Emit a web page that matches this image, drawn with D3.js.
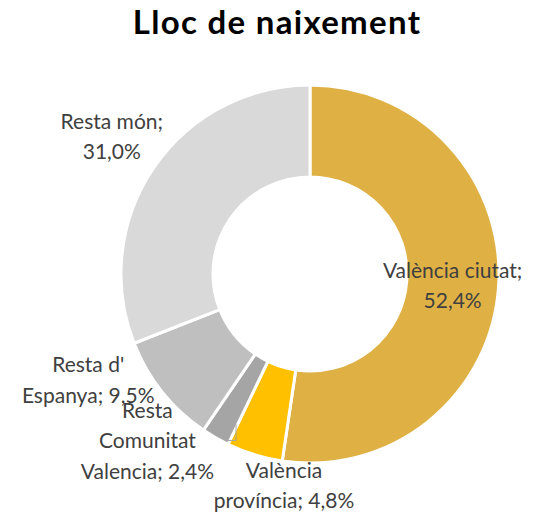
<!DOCTYPE html>
<html>
<head>
<meta charset="utf-8">
<script src="https://cdn.jsdelivr.net/npm/d3@7"></script>
<style>
  body { margin: 0; background: #fff; }
  svg { display: block; font-family: Lato, "Open Sans", sans-serif; }
</style>
</head>
<body>
<div id="chart"></div>
<script>
// chart data
const categories = ["València ciutat", "València província", "Resta Comunitat Valencia", "Resta d' Espanya", "Resta món"];
const values = [52.4, 4.8, 2.4, 9.5, 31.0];
const valueLabels = ["52,4%", "4,8%", "2,4%", "9,5%", "31,0%"];
// label lines as Excel wrapped them
const labelLines = [
  ["València ciutat;", "52,4%"],
  ["València", "província; 4,8%"],
  ["Resta", "Comunitat", "Valencia; 2,4%"],
  ["Resta d'", "Espanya; 9,5%"],
  ["Resta món;", "31,0%"]
];
const colors = ["#DFB145", "#FFC000", "#A5A5A5", "#BFBFBF", "#D9D9D9"];

const width = 536, height = 517;
const cx = 310, cy = 274;
const outerR = 189, innerR = 97;

// label offsets from each slice centroid (first baseline)
const labelOffsets = [[0, -7], [16, 67], [-91, 20], [-110, 9], [-80, -65]];
const lineHeight = 30.5;

const svg = d3.select("#chart").append("svg")
  .attr("width", width)
  .attr("height", height);

svg.append("text")
  .attr("x", 277)
  .attr("y", 34)
  .attr("text-anchor", "middle")
  .attr("font-size", 33)
  .attr("font-weight", "bold")
  .attr("letter-spacing", 1.3)
  .attr("fill", "#000")
  .text("Lloc de naixement");

const pie = d3.pie().sort(null).value(d => d);
const arcs = pie(values);
const arc = d3.arc().innerRadius(innerR).outerRadius(outerR);

const g = svg.append("g").attr("transform", `translate(${cx},${cy})`);

g.selectAll("path.slice")
  .data(arcs)
  .join("path")
  .attr("class", "slice")
  .attr("d", arc)
  .attr("fill", (d, i) => colors[i])
  .attr("stroke", "#fff")
  .attr("stroke-width", 3)
  .attr("stroke-linejoin", "round");

// small leader line for the "Resta Comunitat" label
const a3 = arcs[2].startAngle;
const p1 = [Math.sin(a3) * (outerR - 22) - 1.5, -Math.cos(a3) * (outerR - 22)];
const p2 = [p1[0], p1[1] + 16];
g.append("path")
  .attr("d", `M${p1[0]},${p1[1]} L${p2[0]},${p2[1]} L${p2[0] - 8},${p2[1]}`)
  .attr("fill", "none")
  .attr("stroke", "#A6A6A6")
  .attr("stroke-width", 1);

const labels = g.selectAll("text.lbl")
  .data(arcs)
  .join("text")
  .attr("class", "lbl")
  .attr("text-anchor", "middle")
  .attr("font-size", 21)
  .attr("fill", "#404040")
  .attr("transform", (d, i) => {
    const c = arc.centroid(d);
    return `translate(${c[0] + labelOffsets[i][0]},${c[1] + labelOffsets[i][1]})`;
  });

labels.selectAll("tspan")
  .data((d, i) => labelLines[i])
  .join("tspan")
  .attr("x", 0)
  .attr("y", (d, j) => j * lineHeight)
  .text(d => d);
</script>
</body>
</html>
